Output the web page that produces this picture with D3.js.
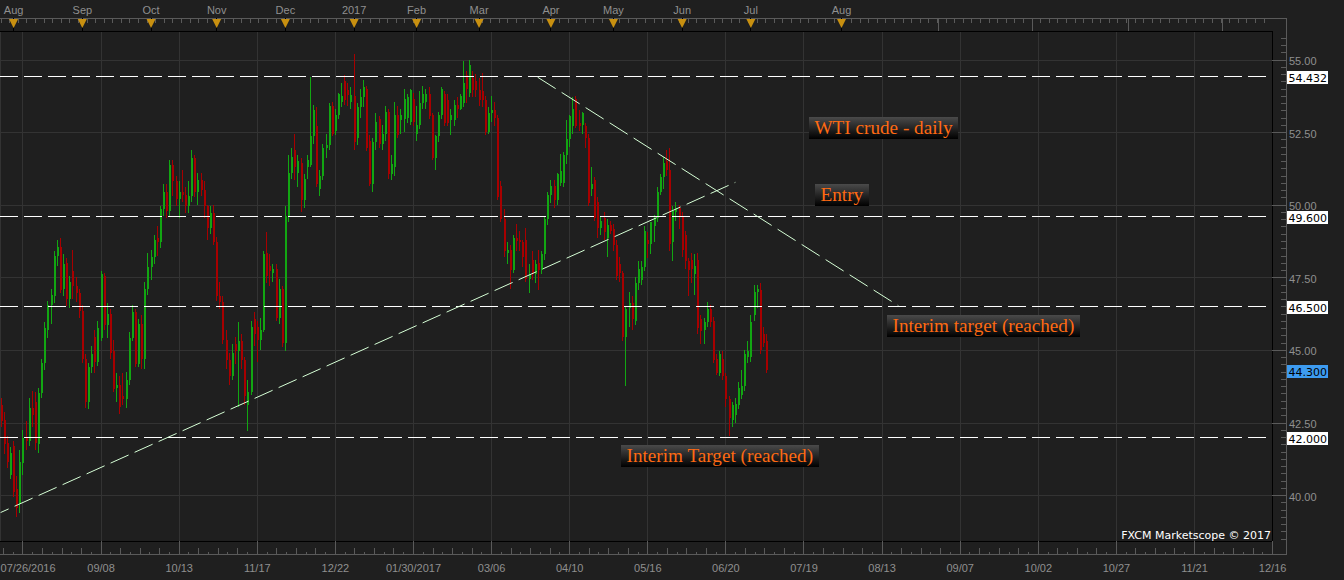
<!DOCTYPE html>
<html>
<head>
<meta charset="utf-8">
<title>WTI crude - daily</title>
<script src="https://cdn.jsdelivr.net/npm/d3@7"></script>
<style>
  html, body { margin: 0; padding: 0; background: #1f1f1f; overflow: hidden; }
  svg { display: block; font-family: 'DejaVu Sans', Verdana, sans-serif; }
  .axis text { fill: #8f8f8f; font-size: 11px; }
</style>
</head>
<body>
<div class="chart"></div>
<script>
// daily bars, 07/26/2016 .. 07/07/2017
const opens = [
  43.10, 42.60, 41.80, 40.70, 41.70, 40.20, 39.70, 41.10, 42.00, 41.85,
  43.00, 43.20, 41.75, 43.50, 44.55, 45.70, 46.55, 46.85, 48.25, 48.55,
  47.10, 48.00, 46.75, 47.70, 47.20, 46.95, 46.35, 44.70, 43.20, 44.40,
  45.45, 44.60, 45.40, 47.55, 45.85, 46.25, 44.95, 43.70, 43.80, 43.40,
  43.30, 43.95, 45.40, 46.30, 44.50, 45.90, 44.70, 47.10, 47.85, 48.20,
  48.85, 48.70, 49.85, 50.45, 49.80, 51.35, 50.80, 50.20, 50.45, 50.35,
  49.95, 50.30, 51.60, 50.45, 50.85, 50.50, 49.95, 49.20, 49.70, 48.70,
  46.85, 46.65, 45.35, 44.65, 44.10, 45.20, 44.95, 45.30, 44.65, 43.10,
  43.55, 46.05, 45.80, 45.35, 45.70, 48.35, 47.90, 47.65, 47.80, 46.10,
  47.10, 45.25, 49.60, 51.10, 51.90, 51.10, 51.45, 50.15, 51.30, 51.35,
  52.35, 52.70, 50.55, 51.00, 51.95, 52.05, 53.40, 52.55, 53.10, 53.55,
  54.25, 53.95, 53.55, 53.75, 52.30, 53.35, 53.70, 54.00, 52.20, 50.70,
  52.15, 52.95, 52.10, 52.45, 53.20, 51.05, 51.30, 53.10, 52.90, 52.95,
  53.00, 52.85, 53.65, 52.45, 52.75, 53.50, 53.55, 53.80, 53.10, 51.60,
  52.35, 53.10, 53.80, 53.60, 52.90, 52.90, 53.45, 53.30, 53.50, 54.45,
  53.85, 54.35, 54.25, 53.95, 53.90, 53.60, 52.50, 53.15, 53.25, 53.00,
  50.65, 49.50, 48.35, 48.45, 47.75, 48.85, 48.80, 48.70, 48.80, 47.45,
  48.10, 47.60, 48.00, 47.75, 48.30, 49.50, 50.35, 50.65, 50.15, 50.75,
  50.75, 51.70, 52.25, 52.70, 53.65, 52.80, 52.75, 52.70, 52.30, 50.55,
  50.85, 50.10, 49.20, 49.55, 48.85, 49.30, 49.15, 48.60, 47.95, 47.65,
  45.45, 46.45, 46.60, 46.00, 47.30, 47.40, 47.85, 48.80, 48.65, 49.25,
  49.55, 50.45, 50.95, 51.50, 51.20, 48.70, 49.75, 49.90, 49.60, 48.95,
  48.05, 48.10, 47.60, 48.10, 46.05, 45.70, 45.95, 46.40, 46.00, 44.70,
  44.20, 44.70, 44.10, 43.30, 42.60, 42.75, 43.10, 43.45, 43.75, 44.75,
  44.75, 46.20, 47.00, 47.05, 45.55, 45.30
];
const highs = [
  43.35, 42.85, 42.05, 41.65, 41.85, 40.65, 41.55, 42.25, 42.55, 43.35,
  43.60, 43.55, 43.70, 44.70, 45.95, 46.70, 47.10, 48.40, 48.80, 48.85,
  48.30, 48.15, 47.55, 48.45, 47.50, 47.10, 46.55, 44.85, 44.55, 45.15,
  45.70, 46.00, 47.70, 47.65, 46.60, 46.40, 45.35, 44.20, 44.10, 44.20,
  44.25, 45.60, 46.55, 46.40, 46.05, 46.20, 47.35, 48.35, 48.45, 48.95,
  49.25, 49.95, 50.70, 50.70, 51.55, 51.55, 51.00, 50.80, 51.20, 50.60,
  50.80, 51.90, 51.70, 51.10, 51.10, 50.80, 50.00, 49.95, 50.00, 48.90,
  47.35, 46.85, 45.70, 44.90, 45.20, 45.45, 45.95, 45.55, 44.75, 43.95,
  46.00, 46.30, 46.00, 46.10, 48.40, 49.05, 48.30, 47.95, 47.95, 47.45,
  47.20, 49.95, 51.70, 51.95, 52.45, 51.70, 51.60, 51.05, 51.70, 54.40,
  53.45, 53.35, 51.20, 52.10, 52.45, 53.50, 53.55, 53.30, 53.85, 54.20,
  54.45, 54.20, 54.05, 55.20, 53.50, 54.00, 54.30, 54.10, 52.40, 52.30,
  53.15, 53.05, 52.75, 53.40, 53.30, 51.70, 53.55, 53.40, 53.30, 54.00,
  53.80, 54.00, 53.85, 53.40, 53.90, 54.10, 54.00, 54.05, 53.15, 52.40,
  53.20, 54.05, 53.90, 53.80, 53.30, 53.60, 53.70, 53.80, 54.95, 54.60,
  55.00, 54.60, 54.50, 54.35, 54.55, 53.75, 53.35, 53.75, 53.55, 53.10,
  50.80, 49.85, 48.70, 48.60, 48.95, 49.35, 49.10, 48.80, 49.20, 47.95,
  48.40, 48.10, 48.45, 48.40, 49.60, 50.45, 50.85, 50.85, 51.10, 51.75,
  51.80, 52.90, 53.10, 53.70, 53.75, 53.25, 53.20, 52.80, 52.45, 51.30,
  50.95, 50.25, 49.60, 49.75, 49.50, 49.45, 49.35, 48.80, 48.20, 47.70,
  46.50, 47.00, 46.85, 47.50, 48.05, 48.05, 49.25, 49.05, 49.40, 49.65,
  50.60, 51.05, 51.65, 51.90, 51.95, 49.95, 50.10, 50.00, 49.75, 49.10,
  48.15, 48.35, 48.30, 48.35, 46.20, 46.10, 46.65, 46.55, 46.15, 44.85,
  44.95, 44.95, 44.20, 43.40, 43.20, 43.35, 43.90, 44.30, 45.00, 45.30,
  46.20, 47.25, 47.25, 47.30, 45.80, 45.55
];
const lows = [
  42.35, 41.40, 40.95, 40.55, 39.95, 39.25, 39.40, 40.70, 41.55, 41.70,
  42.35, 41.55, 41.45, 43.35, 44.30, 45.40, 45.90, 46.60, 47.90, 46.95,
  46.85, 46.50, 46.45, 46.75, 46.65, 46.10, 44.55, 43.00, 42.95, 44.20,
  44.20, 44.45, 45.30, 45.70, 45.40, 44.70, 43.55, 43.20, 42.80, 43.10,
  43.00, 43.80, 45.30, 44.40, 44.40, 44.35, 44.35, 46.90, 47.40, 47.95,
  48.25, 48.50, 49.60, 49.55, 49.60, 50.30, 49.95, 49.55, 50.10, 49.70,
  49.70, 50.10, 50.25, 50.00, 50.30, 49.55, 48.80, 49.00, 48.60, 46.70,
  46.40, 45.20, 44.35, 43.80, 43.95, 44.50, 43.05, 44.35, 43.10, 42.20,
  43.45, 45.15, 44.60, 45.00, 45.60, 47.30, 47.20, 47.35, 46.00, 45.90,
  45.10, 44.95, 49.40, 50.90, 50.85, 50.60, 49.75, 49.90, 50.90, 51.30,
  52.10, 50.60, 50.30, 50.85, 51.60, 51.90, 52.35, 52.40, 52.95, 53.35,
  53.45, 53.40, 53.30, 51.90, 52.05, 53.00, 53.35, 51.85, 50.65, 50.45,
  51.90, 51.95, 51.90, 52.20, 50.90, 50.85, 51.00, 52.30, 52.45, 52.50,
  52.80, 52.75, 52.70, 52.20, 52.60, 53.30, 53.30, 52.95, 51.55, 51.20,
  52.15, 52.95, 52.70, 52.70, 52.40, 52.70, 53.00, 53.25, 53.35, 53.50,
  53.70, 53.70, 53.70, 53.40, 53.35, 52.40, 52.45, 52.85, 52.70, 50.15,
  49.40, 48.20, 47.95, 47.10, 47.65, 48.40, 48.40, 47.85, 47.35, 46.95,
  47.40, 47.30, 47.05, 47.60, 48.10, 49.30, 50.05, 49.90, 50.00, 50.65,
  50.60, 51.40, 52.00, 52.45, 52.65, 52.55, 52.45, 51.95, 49.95, 50.30,
  49.45, 48.85, 48.95, 48.80, 48.20, 49.00, 48.40, 47.40, 47.35, 45.30,
  43.75, 45.80, 45.70, 45.85, 47.05, 47.25, 47.70, 48.15, 48.30, 48.70,
  49.40, 50.35, 50.55, 51.00, 48.40, 48.05, 49.45, 49.15, 48.20, 47.80,
  46.85, 47.30, 46.90, 45.55, 45.20, 45.20, 45.80, 45.80, 44.55, 44.15,
  44.10, 43.95, 43.05, 42.05, 42.35, 42.50, 42.95, 43.30, 43.60, 44.55,
  44.60, 46.00, 46.45, 44.85, 45.10, 44.20
];
const closes = [
  42.55, 41.75, 41.15, 41.45, 40.10, 39.55, 41.15, 41.95, 41.85, 43.00,
  42.75, 41.80, 43.50, 44.55, 45.75, 46.55, 46.90, 48.25, 48.55, 47.05,
  47.95, 46.75, 47.35, 47.20, 46.95, 46.35, 44.70, 43.20, 44.40, 44.85,
  44.60, 45.75, 47.60, 45.85, 46.25, 44.90, 43.65, 43.80, 43.05, 43.30,
  43.95, 45.40, 46.30, 44.50, 45.90, 44.70, 47.10, 47.85, 48.20, 48.80,
  48.70, 49.85, 50.45, 49.80, 51.35, 50.80, 50.20, 50.45, 50.35, 49.95,
  50.30, 51.60, 50.45, 50.85, 50.50, 49.95, 49.20, 49.70, 48.70, 46.85,
  46.65, 45.35, 44.65, 44.10, 44.90, 44.95, 45.30, 44.65, 43.40, 43.55,
  45.80, 45.55, 45.35, 45.70, 48.30, 47.55, 47.70, 47.80, 46.10, 47.10,
  45.25, 49.60, 51.10, 51.65, 51.30, 51.50, 50.15, 50.90, 51.55, 52.35,
  53.25, 50.70, 51.00, 51.95, 52.05, 53.40, 52.45, 53.10, 53.80, 53.75,
  53.60, 53.78, 53.78, 52.15, 53.35, 53.70, 54.05, 51.95, 50.70, 52.15,
  52.85, 52.10, 52.45, 53.20, 51.05, 51.40, 53.10, 52.40, 53.08, 53.65,
  53.70, 53.95, 52.85, 52.75, 53.50, 53.80, 53.80, 53.05, 51.60, 52.35,
  53.10, 54.00, 52.80, 52.80, 53.10, 53.45, 53.30, 53.75, 54.20, 54.00,
  54.80, 53.95, 53.95, 53.60, 53.60, 52.50, 53.15, 53.25, 53.00, 50.25,
  49.50, 48.40, 48.45, 47.75, 48.85, 48.75, 48.70, 48.20, 47.45, 47.60,
  47.60, 47.95, 47.75, 48.30, 49.50, 50.35, 50.65, 50.15, 51.05, 51.15,
  51.70, 52.25, 53.05, 53.30, 52.70, 52.70, 53.15, 52.30, 50.05, 50.70,
  49.55, 49.20, 49.45, 49.05, 49.30, 49.10, 48.60, 47.55, 47.65, 45.45,
  46.40, 46.60, 46.05, 47.30, 47.80, 47.85, 49.10, 48.65, 49.40, 49.55,
  50.45, 50.95, 51.45, 51.20, 48.65, 49.80, 49.90, 49.60, 48.45, 48.05,
  47.75, 47.80, 47.90, 45.75, 45.65, 45.95, 46.40, 45.95, 44.65, 44.20,
  44.85, 44.10, 43.30, 42.65, 43.10, 43.15, 43.70, 43.75, 44.85, 44.95,
  45.95, 47.00, 47.10, 45.00, 45.25, 44.30
];

const tickBars = [7, 32, 57, 82, 107, 132, 157, 182, 207, 232, 257, 282, 307, 332, 357, 382, 407];
const tickLabels = ['07/26/2016', '09/08', '10/13', '11/17', '12/22', '01/30/2017', '03/06', '04/10', '05/16',
  '06/20', '07/19', '08/13', '09/07', '10/02', '10/27', '11/21', '12/16'];
const monthBars = [4, 26, 48, 69, 91, 113, 133, 153, 176, 196, 218, 240, 269];
const monthLabels = ['Aug', 'Sep', 'Oct', 'Nov', 'Dec', '2017', 'Feb', 'Mar', 'Apr', 'May', 'Jun', 'Jul', 'Aug'];
const futureMonthBars = [300, 330, 361, 391];
const priceTicks = [40, 42.5, 45, 47.5, 50, 52.5, 55];
const levels = [54.432, 49.6, 46.5, 42.0];
const lastPrice = 44.3;
const trendLines = [
  [[0, 39.4], [235.2, 50.77]],
  [[171.9, 54.39], [287.4, 46.52]]
];
const notes = [
  { text: 'WTI crude - daily', bar: 258.8, price: 53.02 },
  { text: 'Entry', bar: 260.7, price: 50.71 },
  { text: 'Interim target (reached)', bar: 283.7, price: 46.2 },
  { text: 'Interim Target (reached)', bar: 198.6, price: 41.72 }
];

const width = 1344;
const height = 580;
const plotRight = 1272;
const plotTop = 31;
const plotBottom = 541;
const axisRight = 1286;
const axisTopY = 18;
const axisBottomY = 554;
const up = '#12a612';
const down = '#a80000';

const x = d3.scaleLinear().domain([0, 407]).range([0.6, 1272.1]);
const y = d3.scaleLinear().domain([40, 55]).range([495.1, 59.5]);
const px = v => Math.round(v) + 0.5;

const svg = d3
  .select('.chart')
  .append('svg')
  .attr('width', width)
  .attr('height', height)
  .style('background', '#1f1f1f');

const defs = svg.append('defs');
const grad = defs.append('linearGradient').attr('id', 'noteBg').attr('x1', 0).attr('y1', 0).attr('x2', 0).attr('y2', 1);
grad.append('stop').attr('offset', '0%').attr('stop-color', '#4a4a4a');
grad.append('stop').attr('offset', '100%').attr('stop-color', '#000');

// grid
const grid = svg.append('g').attr('stroke', '#333').attr('shape-rendering', 'crispEdges');
grid
  .selectAll('.vgrid')
  .data(tickBars)
  .join('line')
  .attr('x1', d => px(x(d)))
  .attr('x2', d => px(x(d)))
  .attr('y1', plotTop)
  .attr('y2', plotBottom);
grid
  .selectAll('.hgrid')
  .data(priceTicks)
  .join('line')
  .attr('x1', 0)
  .attr('x2', plotRight)
  .attr('y1', d => px(y(d)))
  .attr('y2', d => px(y(d)));
grid.append('line').attr('x1', 0.5).attr('x2', 0.5).attr('y1', plotTop).attr('y2', plotBottom);

// candles
const bars = d3.range(opens.length);
const candles = svg.append('g').attr('shape-rendering', 'crispEdges');
candles
  .selectAll('line')
  .data(bars)
  .join('line')
  .attr('x1', i => Math.round(x(i)) + 0.5)
  .attr('x2', i => Math.round(x(i)) + 0.5)
  .attr('y1', i => y(highs[i]))
  .attr('y2', i => y(lows[i]))
  .attr('stroke', i => (closes[i] >= opens[i] ? up : down));
candles
  .selectAll('rect')
  .data(bars)
  .join('rect')
  .attr('x', i => Math.round(x(i)))
  .attr('width', 2)
  .attr('y', i => y(Math.max(opens[i], closes[i])))
  .attr('height', i => Math.max(1, Math.abs(y(opens[i]) - y(closes[i]))))
  .attr('fill', i => (closes[i] >= opens[i] ? up : down));

// horizontal levels
svg
  .append('g')
  .selectAll('line')
  .data(levels)
  .join('line')
  .attr('x1', 0)
  .attr('x2', plotRight)
  .attr('y1', d => px(y(d)))
  .attr('y2', d => px(y(d)))
  .attr('stroke', '#fff')
  .attr('stroke-dasharray', '18,6')
  .attr('shape-rendering', 'crispEdges');

// trend lines
svg
  .append('g')
  .selectAll('line')
  .data(trendLines)
  .join('line')
  .attr('x1', d => x(d[0][0]))
  .attr('y1', d => y(d[0][1]))
  .attr('x2', d => x(d[1][0]))
  .attr('y2', d => y(d[1][1]))
  .attr('stroke', '#d6ffd6')
  .attr('stroke-width', 1)
  .each(function (d) {
    const dx = x(d[1][0]) - x(d[0][0]);
    const dy = y(d[1][1]) - y(d[0][1]);
    const f = Math.sqrt(dx * dx + dy * dy) / Math.abs(dx);
    const offset = dy < 0 ? 10 * f : 0;
    d3.select(this)
      .attr('stroke-dasharray', `${18 * f},${6 * f}`)
      .attr('stroke-dashoffset', offset);
  });

// annotation boxes
const noteG = svg
  .append('g')
  .selectAll('g')
  .data(notes)
  .join('g')
  .attr('transform', d => `translate(${Math.round(x(d.bar))},${Math.round(y(d.price))})`);
noteG.append('rect').attr('height', 22).attr('fill', 'url(#noteBg)');
noteG
  .append('text')
  .attr('x', 5.5)
  .attr('y', 17.2)
  .attr('fill', '#ff6a12')
  .style('font-family', "'Liberation Serif', 'Times New Roman', serif")
  .style('font-size', '19.2px')
  .text(d => d.text);
noteG.each(function () {
  const g = d3.select(this);
  const w = g.select('text').node().getComputedTextLength();
  g.select('rect').attr('width', Math.round(w + 11.5));
});

// plot frame
const frame = svg.append('g').attr('stroke', '#000').attr('shape-rendering', 'crispEdges');
frame.append('line').attr('x1', 0).attr('x2', plotRight).attr('y1', plotTop + 0.5).attr('y2', plotTop + 0.5);
frame.append('line').attr('x1', 0).attr('x2', plotRight + 1).attr('y1', plotBottom + 0.5).attr('y2', plotBottom + 0.5);
frame.append('line').attr('x1', plotRight + 0.5).attr('x2', plotRight + 0.5).attr('y1', plotTop).attr('y2', plotBottom + 1);

svg
  .append('text')
  .attr('x', plotRight - 1)
  .attr('y', plotBottom - 2)
  .attr('text-anchor', 'end')
  .attr('fill', '#fff')
  .style('font-size', '11px')
  .text('FXCM Marketscope \u00a9 2017');

// axis lines
const axisLines = svg.append('g').attr('stroke', '#5a5a5a').attr('shape-rendering', 'crispEdges');
axisLines.append('line').attr('x1', 0).attr('x2', axisRight + 1).attr('y1', axisTopY + 0.5).attr('y2', axisTopY + 0.5);
axisLines.append('line').attr('x1', 0).attr('x2', axisRight + 1).attr('y1', axisBottomY + 0.5).attr('y2', axisBottomY + 0.5);
axisLines.append('line').attr('x1', axisRight + 0.5).attr('x2', axisRight + 0.5).attr('y1', axisTopY).attr('y2', axisBottomY + 1);

// top axis
const topMinor = d3.range(0, 407, 2.75);
svg
  .append('g')
  .attr('class', 'axis')
  .attr('transform', `translate(0,${axisTopY + 0.5})`)
  .call(d3.axisTop(x).tickValues(topMinor).tickSizeInner(-4).tickSizeOuter(0).tickFormat(''))
  .call(g => g.select('.domain').remove())
  .call(g => g.selectAll('line').attr('stroke', '#5a5a5a').attr('shape-rendering', 'crispEdges'));
svg
  .append('g')
  .attr('class', 'axis')
  .attr('transform', `translate(0,${axisTopY})`)
  .call(d3.axisTop(x).tickValues(futureMonthBars).tickSizeInner(-13).tickSizeOuter(0).tickFormat(''))
  .call(g => g.select('.domain').remove())
  .call(g => g.selectAll('line').attr('stroke', '#5a5a5a').attr('shape-rendering', 'crispEdges'));
const topAxis = svg
  .append('g')
  .attr('class', 'axis')
  .attr('transform', `translate(0,${axisTopY})`)
  .call(
    d3
      .axisTop(x)
      .tickValues(monthBars)
      .tickSizeInner(-13)
      .tickSizeOuter(0)
      .tickPadding(4.5)
      .tickFormat((d, i) => monthLabels[i]),
  )
  .call(g => g.select('.domain').remove())
  .call(g => g.selectAll('line').attr('stroke', '#000').attr('shape-rendering', 'crispEdges'));
topAxis
  .selectAll('.tick')
  .append('path')
  .attr('d', 'M-4.5,1L4.5,1L0,10Z')
  .attr('fill', '#c89010');

// bottom axis
const bottomMinor = d3.range(7 - 25, 407, 25 / 8).filter(d => d >= 0 && Math.round((d - 7) / (25 / 8)) % 8 !== 0);
svg
  .append('g')
  .attr('class', 'axis')
  .attr('transform', `translate(0,${axisBottomY})`)
  .call(d3.axisBottom(x).tickValues(bottomMinor).tickSizeOuter(0).tickFormat(''))
  .call(g => g.select('.domain').remove())
  .call(g =>
    g
      .selectAll('line')
      .attr('y2', d => (Math.round((d - 7) / (25 / 8)) % 2 === 0 ? -6 : -2))
      .attr('stroke', '#5a5a5a')
      .attr('shape-rendering', 'crispEdges'),
  );
const bottomAxis = svg
  .append('g')
  .attr('class', 'axis')
  .attr('transform', `translate(0,${axisBottomY})`)
  .call(
    d3
      .axisBottom(x)
      .tickValues(tickBars)
      .tickSizeInner(-13)
      .tickSizeOuter(0)
      .tickPadding(10)
      .tickFormat((d, i) => tickLabels[i]),
  )
  .call(g => g.select('.domain').remove())
  .call(g => g.selectAll('line').attr('stroke', '#5a5a5a').attr('shape-rendering', 'crispEdges'));
bottomAxis.selectAll('.tick text').each(function (d) {
  const t = d3.select(this);
  const w = this.getComputedTextLength();
  const cx = x(d);
  if (cx - w / 2 < 0) t.attr('text-anchor', 'start').attr('x', -cx);
  else if (cx + w / 2 > axisRight) t.attr('text-anchor', 'end').attr('x', axisRight - cx);
});

// right axis
const rightMinor = d3.range(38.5, 56, 0.25).filter(d => d % 2.5 !== 0);
svg
  .append('g')
  .attr('class', 'axis')
  .attr('transform', `translate(${axisRight},0)`)
  .call(d3.axisRight(y).tickValues(rightMinor).tickSizeInner(-5).tickSizeOuter(0).tickFormat(''))
  .call(g => g.select('.domain').remove())
  .call(g => g.selectAll('line').attr('stroke', '#5a5a5a').attr('shape-rendering', 'crispEdges'))
  .call(g => g.selectAll('.tick').filter(d => y(d) < plotTop || y(d) > axisBottomY).remove());
svg
  .append('g')
  .attr('class', 'axis')
  .attr('transform', `translate(${axisRight},0)`)
  .call(
    d3
      .axisRight(y)
      .tickValues(priceTicks)
      .tickSizeInner(-14)
      .tickSizeOuter(0)
      .tickPadding(3)
      .tickFormat(d3.format('.2f')),
  )
  .call(g => g.select('.domain').remove())
  .call(g => g.selectAll('line').attr('stroke', '#5a5a5a').attr('shape-rendering', 'crispEdges'))
  .call(g => g.selectAll('text').attr('dy', '0.46em'));

// price tags
const tags = svg
  .append('g')
  .selectAll('g')
  .data(levels.map(v => ({ v, fill: '#fff' })).concat([{ v: lastPrice, fill: '#3d9bf0' }]))
  .join('g')
  .attr('transform', d => `translate(${axisRight + 1},${Math.round(y(d.v))})`);
tags
  .append('rect')
  .attr('y', -5)
  .attr('width', 41)
  .attr('height', 13)
  .attr('fill', d => d.fill);
tags
  .append('text')
  .attr('x', 1.5)
  .attr('y', 5.5)
  .attr('fill', '#000')
  .style('font-size', '11px')
  .text(d => d3.format('.3f')(d.v));
</script>
</body>
</html>
